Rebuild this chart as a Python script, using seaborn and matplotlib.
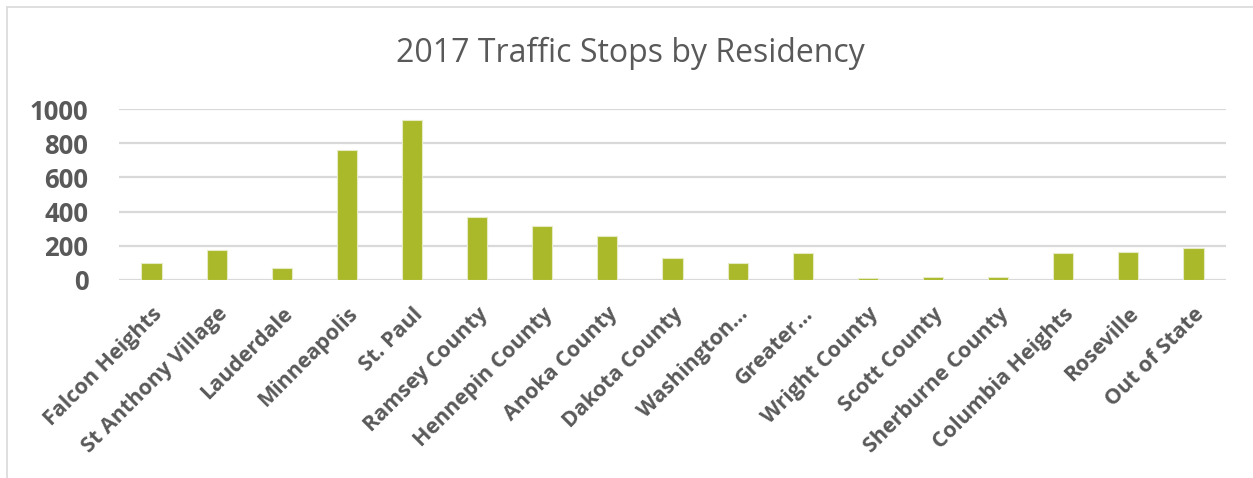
import matplotlib
matplotlib.use('Agg')
import matplotlib.pyplot as plt
import seaborn as sns
import pandas as pd
from matplotlib.lines import Line2D

places = ['Falcon Heights', 'St Anthony Village', 'Lauderdale', 'Minneapolis', 'St. Paul',
          'Ramsey County', 'Hennepin County', 'Anoka County', 'Dakota County', 'Washington...',
          'Greater...', 'Wright County', 'Scott County', 'Sherburne County', 'Columbia Heights',
          'Roseville', 'Out of State']
stops = [97, 175, 68, 760, 936, 370, 316, 257, 130, 101, 156, 12, 18, 20, 156, 166, 189]
yticks = [0, 200, 400, 600, 800, 1000]

df = pd.DataFrame({'place': places, 'stops': stops})

sns.set_style('white')
plt.rcParams['font.family'] = ['Open Sans', 'DejaVu Sans']
txt = '#595959'

fig = plt.figure(figsize=(12.53, 4.78), dpi=100)
ax = fig.add_axes([119 / 1253, 1 - 280 / 478, (1226 - 119) / 1253, (280 - 109) / 478])

sns.barplot(data=df, x='place', y='stops', color='#A9B92A', saturation=1, width=0.31,
            edgecolor='#E6EBC4', linewidth=0.8, ax=ax, zorder=3)

ax.set_ylim(0, 1000)
ax.set_xlim(-0.5, len(places) - 0.5)
ax.set_yticks(yticks)
ax.set_yticklabels([str(v) for v in yticks], fontsize=18.5, fontweight='bold', color=txt)
ax.set_xticks(range(len(places)))
ax.set_xticklabels(places, rotation=45, ha='right', va='top', rotation_mode='anchor',
                   fontsize=15.5, fontweight='bold', color=txt)
ax.tick_params(axis='y', length=0, pad=22)
ax.tick_params(axis='x', length=0, pad=17)
ax.set_xlabel('')
ax.set_ylabel('')
ax.grid(axis='y', color='#D9D9D9', linewidth=1.6, zorder=0)
ax.set_axisbelow(True)
sns.despine(ax=ax, left=True, bottom=True, top=True, right=True)

fig.text(630 / 1253, 1 - 62 / 478, '2017 Traffic Stops by Residency', ha='center', va='baseline',
         fontsize=23, color=txt)

# chart frame
fig.add_artist(Line2D([7 / 1253, 7 / 1253], [0, 1 - 7 / 478], color='#D9D9D9', linewidth=1.2,
                      transform=fig.transFigure))
fig.add_artist(Line2D([7 / 1253, 1], [1 - 7 / 478, 1 - 7 / 478], color='#D9D9D9', linewidth=1.2,
                      transform=fig.transFigure))

fig.savefig('out.png', dpi=100)
